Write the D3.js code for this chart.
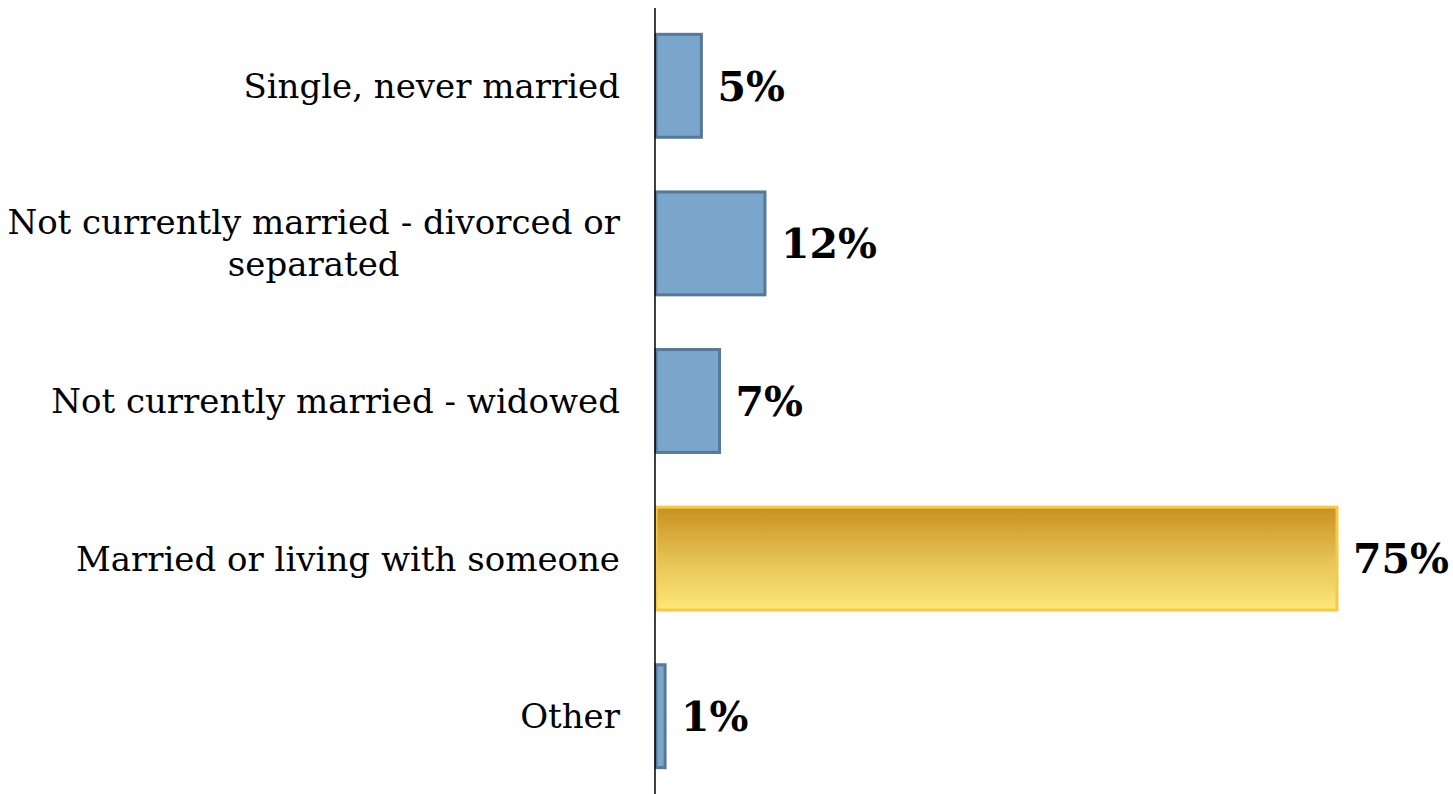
<!DOCTYPE html>
<html><head><meta charset="utf-8">
<script src="https://cdn.jsdelivr.net/npm/d3@7"></script>
<style>body{margin:0;background:#fff;}svg{display:block;}</style>
</head><body>
<script>
const categories = ["Single, never married", "Not currently married - divorced or separated", "Not currently married - widowed", "Married or living with someone", "Other"];
const values = [5, 12, 7, 75, 1];
const highlight = [false, false, false, true, false];
const labelLines = [["Single, never married"], ["Not currently married - divorced or", "separated"], ["Not currently married - widowed"], ["Married or living with someone"], ["Other"]];

const W = 1453, H = 794;
const svg = d3.select("body").append("svg").attr("width", W).attr("height", H);
const defs = svg.append("defs");
const g1 = defs.append("linearGradient").attr("id","gold").attr("x1",0).attr("y1",0).attr("x2",0).attr("y2",1);
g1.append("stop").attr("offset","0%").attr("stop-color","#c8911f");
g1.append("stop").attr("offset","55%").attr("stop-color","#e8c558");
g1.append("stop").attr("offset","100%").attr("stop-color","#fce878");

const x0 = 656;
const x = d3.scaleLinear().domain([0, 75]).range([x0, 1337]);
const y = d3.scaleBand().domain(categories).range([7, 795]).paddingInner(0.347).paddingOuter(0.1735);

const font = "Rockwell, 'DejaVu Serif', serif";

svg.selectAll("rect.bar").data(categories).enter().append("rect")
  .attr("x", x(0))
  .attr("y", d => y(d))
  .attr("width", (d,i) => x(values[i]) - x(0))
  .attr("height", y.bandwidth())
  .attr("fill", (d,i) => highlight[i] ? "url(#gold)" : "#7aa6cb")
  .attr("stroke", (d,i) => highlight[i] ? "#f7c948" : "#58789a")
  .attr("stroke-width", 3);

svg.append("line").attr("x1", 655).attr("x2", 655).attr("y1", 8).attr("y2", 794)
  .attr("stroke", "#000").attr("stroke-width", 1.5);

// category labels
const fs = 34, lh = 42, rightEdge = 620;
labelLines.forEach((lines, i) => {
  const cy = y(categories[i]) + y.bandwidth()/2;
  const grp = svg.append("g");
  const texts = lines.map((ln, j) => grp.append("text")
    .attr("y", cy + (j - (lines.length-1)/2) * lh)
    .attr("dy", "0.35em")
    .attr("font-family", font).attr("font-size", fs).attr("fill", "#000")
    .text(ln));
  const widths = texts.map(t => t.node().getComputedTextLength());
  const maxW = d3.max(widths);
  texts.forEach(t => t.attr("text-anchor", "middle").attr("x", rightEdge - maxW/2));
});

// value labels
svg.selectAll("text.val").data(categories).enter().append("text")
  .attr("x", (d,i) => x(values[i]) + 16)
  .attr("y", d => y(d) + y.bandwidth()/2)
  .attr("dy", "0.36em")
  .attr("font-family", font).attr("font-size", 41).attr("font-weight", "bold")
  .attr("fill", "#000")
  .text((d,i) => values[i] + "%");
</script>
</body></html>
